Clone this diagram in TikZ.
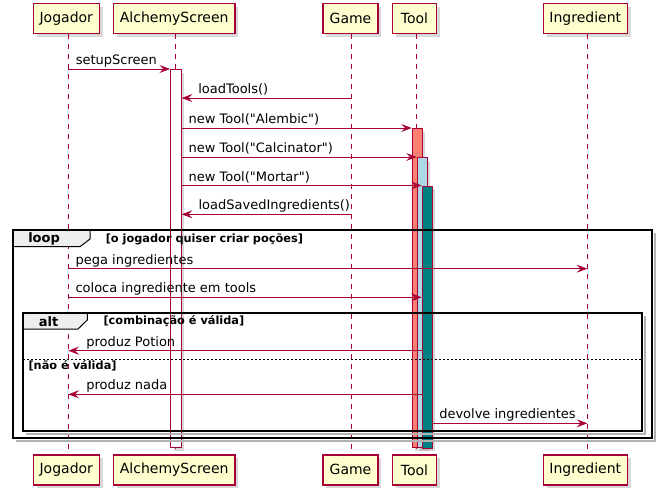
\documentclass[tikz,border=0pt]{standalone}
\usepackage{fontspec}
\setmainfont{DejaVu Sans}[Ligatures=TeXOff]
\usetikzlibrary{arrows.meta,shadows,calc}
\definecolor{plred}{HTML}{A80036}
\definecolor{plfill}{HTML}{FEFECE}
\definecolor{salmonc}{HTML}{FA8072}
\definecolor{lbluec}{HTML}{ADD8E6}
\definecolor{tealc}{HTML}{008080}
\definecolor{tabgray}{HTML}{EEEEEE}
\begin{document}
\begin{tikzpicture}[x=0.75pt,y=-0.75pt,
 part/.style={draw=plred, fill=plfill, line width=1.1pt, minimum height=22.5pt, inner sep=0pt,
   font=\fontsize{10.5pt}{12pt}\selectfont,
   drop shadow={shadow xshift=2.5pt,shadow yshift=-2.5pt,opacity=0.3}},
 life/.style={draw=plred, line width=0.75pt, dash pattern=on 3.75pt off 3.75pt},
 msg/.style={draw=plred, line width=0.75pt, -{Stealth[length=8pt,width=6pt,inset=3pt]}},
 mlabel/.style={font=\fontsize{9.75pt}{11pt}\selectfont, inner sep=0pt, anchor=base west},
 actbox/.style={draw=plred, line width=0.75pt, inner sep=0pt, anchor=north west,
   drop shadow={shadow xshift=2.25pt,shadow yshift=-2.25pt,opacity=0.3}},
 frame/.style={draw=black, line width=1.5pt},
 fshadow/.style={draw=black!30, line width=1.5pt},
 tabshape/.style={draw=black, fill=tabgray, line width=0.75pt},
 tablabel/.style={font=\bfseries\fontsize{9.75pt}{11pt}\selectfont, inner sep=0pt, anchor=base west},
 guard/.style={font=\bfseries\fontsize{8.5pt}{10pt}\selectfont, inner sep=0pt, anchor=base west}
]
\path[fill=white] (0,0) rectangle (662,496);
\useasboundingbox (0,0) rectangle (662,496);

% lifeline reference coordinates
\coordinate (jL) at (68.3,0);
\coordinate (aL) at (175,0);
\coordinate (gL) at (352,0);
\coordinate (tL) at (416.3,0);
\coordinate (iL) at (587.3,0);

% participants
\node[part, minimum width=49.5pt] (jt) at (66.3,18.3) {Jogador};
\node[part, minimum width=91.3pt] (at) at (174.2,18.3) {AlchemyScreen};
\node[part, minimum width=41.25pt] (gt) at (350.5,18.3) {Game};
\node[part, minimum width=33.3pt] (tt) at (414.5,18.3) {Tool};
\node[part, minimum width=63pt] (it) at (585.3,18.3) {Ingredient};
\node[part, minimum width=49.5pt] (jb) at (66.3,469.8) {Jogador};
\node[part, minimum width=91.3pt] (ab) at (174.2,469.8) {AlchemyScreen};
\node[part, minimum width=41.25pt] (gb) at (350.5,469.8) {Game};
\node[part, minimum width=33.3pt] (tb) at (414.5,469.8) {Tool};
\node[part, minimum width=63pt] (ib) at (585.3,469.8) {Ingredient};

% lifelines
\draw[life] ([xshift=1.5pt]jt.south) -- ([xshift=1.5pt]jb.north);
\draw[life] ([xshift=0.6pt]at.south) -- ([xshift=0.6pt]ab.north);
\draw[life] ([xshift=1.1pt]gt.south) -- ([xshift=1.1pt]gb.north);
\draw[life] ([xshift=1.35pt]tt.south) -- ([xshift=1.35pt]tb.north);
\draw[life] ([xshift=1.5pt]it.south) -- ([xshift=1.5pt]ib.north);

% activations
\node[actbox, fill=white, minimum width=8pt, minimum height=283.5pt] (actA) at (170,69) {};
\node[actbox, fill=salmonc, minimum width=7.5pt, minimum height=239.25pt] (act1) at (411.7,128) {};
\node[actbox, fill=lbluec, minimum width=7.5pt, minimum height=217.5pt] (act2) at (416.7,157) {};
\node[actbox, fill=tealc, minimum width=7.5pt, minimum height=196.5pt] (act3) at (421.7,185.5) {};

% loop frame
\draw[fshadow] (654.7,233) -- (654.7,441) -- (16,441);
\draw[tabshape] (13,230) -- (90,230) -- (90,239) -- (80,246.7) -- (13,246.7) -- cycle;
\draw[frame] (13,230) rectangle (651.7,438);
\node[tablabel] (looplbl) at (28,242.5) {loop};
\node[guard] (loopguard) at (105.5,242) {[o jogador quiser criar poções]};

% alt frame
\draw[fshadow] (644.7,315.7) -- (644.7,433.7) -- (26,433.7);
\draw[tabshape] (23,312.7) -- (87.3,312.7) -- (87.3,320) -- (78,329) -- (23,329) -- cycle;
\draw[frame] (23,312.7) rectangle (641.7,430.7);
\node[tablabel] (altlbl) at (38.5,326) {alt};
\node[guard] (altguard) at (103.3,324.3) {[combinação é válida]};
\draw[black, line width=0.75pt, dash pattern=on 1.5pt off 1.5pt] (23,359.3) -- (641.7,359.3);
\node[guard] (elseguard) at (28.3,369.3) {[não é válida]};

% messages
\draw[msg] ($(jL)+(0,69)$) -- ($(actA.west|-jL)+(0,69)$);
\node[mlabel] (m1) at (75.5,64.5) {setupScreen};

\draw[msg] ($(gL)+(0,98)$) -- ($(actA.east|-jL)+(0,98)$);
\node[mlabel] (m2) at (198,93.5) {loadTools()};

\draw[msg] ($(actA.east|-jL)+(0,128)$) -- ($(act1.west|-jL)+(0,128)$);
\node[mlabel] (m3) at (188.3,123.5) {new Tool("Alembic")};

\draw[msg] ($(actA.east|-jL)+(0,157)$) -- ($(act2.west|-jL)+(0,157)$);
\node[mlabel] (m4) at (188.3,152.5) {new Tool("Calcinator")};

\draw[msg] ($(actA.east|-jL)+(0,185.5)$) -- ($(act3.west|-jL)+(0,185.5)$);
\node[mlabel] (m5) at (188.3,181) {new Tool("Mortar")};

\draw[msg] ($(gL)+(0,214.3)$) -- ($(actA.east|-jL)+(0,214.3)$);
\node[mlabel] (m6) at (198.3,209.8) {loadSavedIngredients()};

\draw[msg] ($(jL)+(0,268.7)$) -- ($(iL)+(0,268.7)$);
\node[mlabel] (m7) at (75.3,264.2) {pega ingredientes};

\draw[msg] ($(jL)+(0,297.3)$) -- ($(act3.west|-jL)+(0,297.3)$);
\node[mlabel] (m8) at (75.3,292.8) {coloca ingrediente em tools};

\draw[msg] ($(act3.west|-jL)+(0,350.7)$) -- ($(jL)+(0,350.7)$);
\node[mlabel] (m9) at (86,346.2) {produz Potion};

\draw[msg] ($(act3.west|-jL)+(0,394.3)$) -- ($(jL)+(0,394.3)$);
\node[mlabel] (m10) at (86,389.8) {produz nada};

\draw[msg] ($(act3.east|-jL)+(0,423.3)$) -- ($(iL)+(0,423.3)$);
\node[mlabel] (m11) at (439,418.8) {devolve ingredientes};
\end{tikzpicture}
\end{document}
